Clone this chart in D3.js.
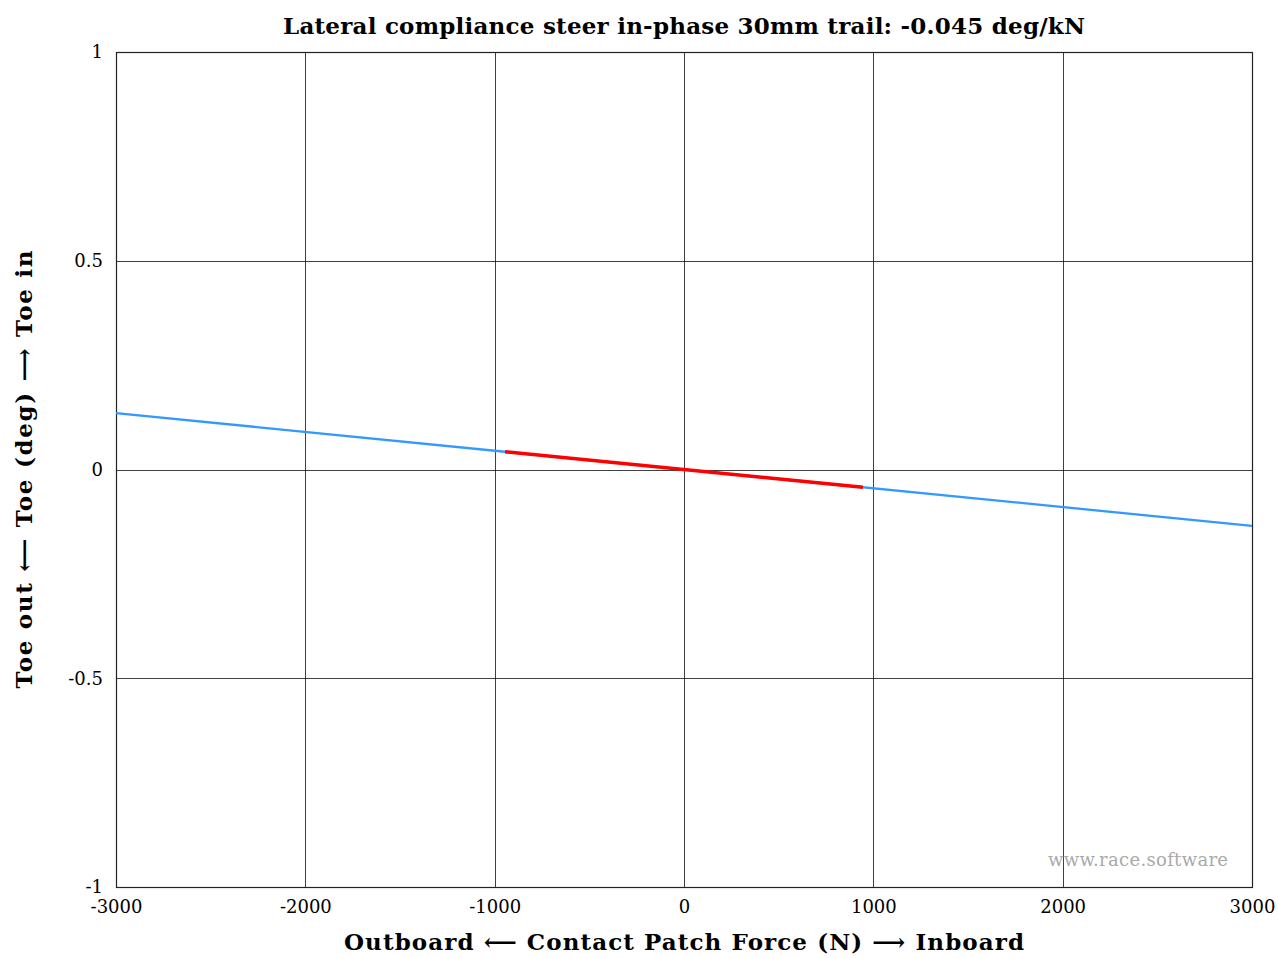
<!DOCTYPE html>
<meta charset="utf-8">
<style>
body { margin: 0; background: #fff; }
text { font-family: "DejaVu Serif", "Liberation Serif", serif; }
.tick text { font-size: 18px; fill: #000; }
.grid line { stroke: #000; stroke-opacity: 0.75; shape-rendering: crispEdges; }
</style>
<svg width="1278" height="958"></svg>
<script src="https://cdn.jsdelivr.net/npm/d3@7"></script>
<script>

var title = "Lateral compliance steer in-phase 30mm trail: -0.045 deg/kN";
var xTicks = [-3000, -2000, -1000, 0, 1000, 2000, 3000];
var yTicks = [-1, -0.5, 0, 0.5, 1];

// full range sweep (blue)
var sweepForce = [-3000, 3000];
var sweepToe = [0.135, -0.135];

// operating range (red)
var opForce = [-945, 945];
var opToe = [0.0425, -0.0425];

var svg = d3.select("svg"),
    margin = {top: 52, right: 26, bottom: 71, left: 116},
    width = +svg.attr("width") - margin.left - margin.right,
    height = +svg.attr("height") - margin.top - margin.bottom,
    g = svg.append("g").attr("transform", "translate(" + margin.left + "," + margin.top + ")");

var x = d3.scaleLinear().domain([-3000, 3000]).range([0, width]);
var y = d3.scaleLinear().domain([-1, 1]).range([height, 0]);

// grid
g.append("g").attr("class", "grid")
  .selectAll("line").data(xTicks).enter().append("line")
    .attr("x1", function(d) { return Math.round(x(d)) + 0.5; })
    .attr("x2", function(d) { return Math.round(x(d)) + 0.5; })
    .attr("y1", 0).attr("y2", height);
g.append("g").attr("class", "grid")
  .selectAll("line").data(yTicks).enter().append("line")
    .attr("y1", function(d) { return Math.round(y(d)) + 0.5; })
    .attr("y2", function(d) { return Math.round(y(d)) + 0.5; })
    .attr("x1", 0).attr("x2", width);

// axes (plain hyphen minus like the original)
var xAxis = g.append("g")
    .attr("transform", "translate(0," + height + ")")
    .call(d3.axisBottom(x).tickValues(xTicks).tickSize(0).tickPadding(13).tickFormat(function(d) { return String(d); }));
xAxis.select(".domain").remove();

var yAxis = g.append("g")
    .call(d3.axisLeft(y).tickValues(yTicks).tickSize(0).tickPadding(13).tickFormat(function(d) { return String(d); }));
yAxis.select(".domain").remove();

g.append("rect")
    .attr("x", 0.5).attr("y", 0.5)
    .attr("width", width).attr("height", height)
    .attr("fill", "none").attr("stroke", "#222").attr("stroke-width", 1.2);

var line = d3.line()
    .x(function(d) { return x(d[0]); })
    .y(function(d) { return y(d[1]); });

g.append("path")
    .datum(d3.zip(sweepForce, sweepToe))
    .attr("d", line)
    .attr("fill", "none").attr("stroke", "#3399ff").attr("stroke-width", 2.3);

g.append("path")
    .datum(d3.zip(opForce, opToe))
    .attr("d", line)
    .attr("fill", "none").attr("stroke", "#ff0000").attr("stroke-width", 3.4);

g.append("text")
    .attr("x", width - 24).attr("y", height - 21)
    .attr("text-anchor", "end")
    .attr("font-size", 18).attr("fill", "#aaa")
    .attr("textLength", 180).attr("lengthAdjust", "spacing")
    .text("www.race.software");

svg.append("text")
    .attr("x", margin.left + width / 2).attr("y", 34)
    .attr("text-anchor", "middle")
    .attr("font-size", 23).attr("font-weight", "bold")
    .attr("textLength", 802).attr("lengthAdjust", "spacing")
    .text(title);

svg.append("text")
    .attr("x", margin.left + width / 2).attr("y", 950)
    .attr("text-anchor", "middle")
    .attr("font-size", 23).attr("font-weight", "bold")
    .attr("textLength", 680).attr("lengthAdjust", "spacing")
    .text("Outboard \u27F5 Contact Patch Force (N) \u27F6 Inboard");

svg.append("text")
    .attr("transform", "translate(32," + (margin.top + height / 2) + ") rotate(-90)")
    .attr("text-anchor", "middle")
    .attr("font-size", 23).attr("font-weight", "bold")
    .attr("textLength", 438).attr("lengthAdjust", "spacing")
    .text("Toe out \u27F5 Toe (deg) \u27F6 Toe in");

</script>
